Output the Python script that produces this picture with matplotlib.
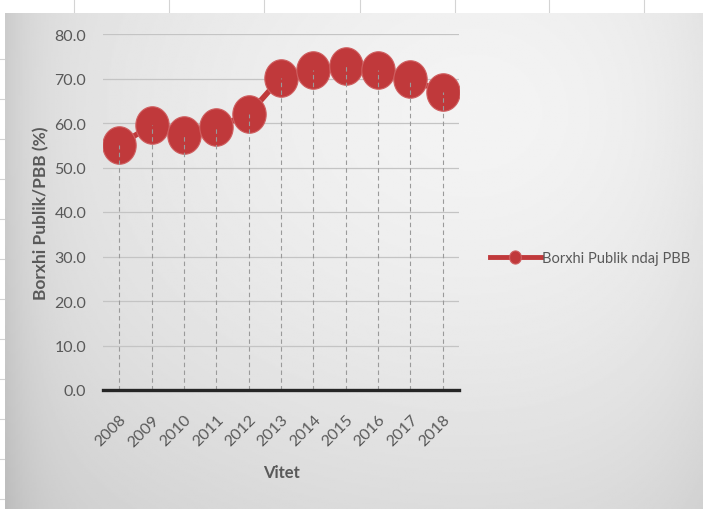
import matplotlib
matplotlib.use("Agg")

import matplotlib.pyplot as plt
from matplotlib.path import Path
import numpy as np

# public debt as share of GDP, by year
years = ["2008", "2009", "2010", "2011", "2012", "2013",
         "2014", "2015", "2016", "2017", "2018"]
debt_pct = [55.0, 59.5, 57.4, 59.0, 62.0, 70.2, 71.9, 72.7, 72.0, 69.8, 67.0]
yticks = [0, 10, 20, 30, 40, 50, 60, 70, 80]

RED = "#c0393b"
TXT = "#595959"
plt.rcParams["font.family"] = ["Lato", "DejaVu Sans"]

fig = plt.figure(figsize=(7.03, 5.10), dpi=100)
fig.patch.set_facecolor("white")

# chart area: light in the upper right, darker towards the left and bottom
bg = fig.add_axes([5 / 703, 0, 1 - 5 / 703, 1 - 14 / 510])
yy, xx = np.mgrid[1:0:300j, 0:1:400j]
r = np.sqrt(((xx - 0.68) * 1.0) ** 2 + ((yy - 0.8) * 0.9) ** 2)
shade = 0.955 - 0.15 * r ** 1.5
shade -= 0.07 * np.exp(-xx / 0.04)
shade -= 0.03 * np.exp(-(1 - xx) / 0.08)
bg.imshow(np.clip(shade, 0.7, 1), cmap="gray", vmin=0, vmax=1,
          aspect="auto", extent=[0, 1, 0, 1])
bg.set_xlim(0, 1)
bg.set_ylim(0, 1)
bg.axis("off")

# worksheet cell borders around the chart
sheet = fig.add_axes([0, 0, 1, 1], zorder=-1)
sheet.set_xlim(0, 703)
sheet.set_ylim(510, 0)
for x in [74, 169, 264, 360, 455, 549, 644]:
    sheet.plot([x, x], [0, 14], color="#d4d4d4", lw=0.8)
for y in [60, 100, 140, 180, 220, 260, 300, 340, 380, 420, 460, 500]:
    sheet.plot([0, 5], [y, y], color="#d4d4d4", lw=0.8)
sheet.axis("off")

ax = fig.add_axes([103 / 703, 1 - 391 / 510, 356 / 703, 356 / 510])
ax.set_facecolor("none")
x = np.arange(len(years))

ax.set_ylim(0, 80)
ax.set_xlim(-0.5, len(years) - 0.5)
ax.set_yticks(yticks)
ax.set_yticklabels(["%.1f" % v for v in yticks])
ax.yaxis.grid(True, color="#c4c4c4", lw=0.9)
ax.set_axisbelow(True)

# slightly tall oval marker
t = np.linspace(0, 2 * np.pi, 60)
oval = Path(np.column_stack([0.89 * np.cos(t), np.sin(t)]), closed=True)

ax.plot(x, debt_pct, color=RED, lw=4, marker=oval, markersize=27,
        markerfacecolor=RED, markeredgecolor="#cf5f60", markeredgewidth=0.8,
        label="Borxhi Publik ndaj PBB", zorder=3)

# dashed drop lines from each point to the axis
ax.vlines(x, 0, debt_pct, colors="#9a9a9a", linestyles=(0, (4, 3)), lw=0.8,
          zorder=4)

for s in ["top", "right", "left"]:
    ax.spines[s].set_visible(False)
ax.spines["bottom"].set_color("#262626")
ax.spines["bottom"].set_linewidth(2.4)
ax.spines["bottom"].set_zorder(5)

ax.set_xticks(x)
ax.set_xticklabels(years, rotation=45, ha="right", rotation_mode="anchor")
ax.tick_params(axis="x", length=0, colors=TXT, labelsize=11.5, pad=16)
ax.tick_params(axis="y", length=0, colors=TXT, labelsize=11.5, pad=12)

ax.set_ylabel("Borxhi Publik/PBB (%)", fontsize=12.5, fontweight="bold",
              color=TXT, labelpad=4)
ax.set_xlabel("Vitet", fontsize=12, fontweight="bold", color=TXT, labelpad=11)

leg = ax.legend(loc="center left", bbox_to_anchor=(1.07, 0.37), frameon=False,
                fontsize=10.5, markerscale=0.35, handlelength=3.5,
                handletextpad=0.1, borderaxespad=0.0, labelcolor=TXT)
for h in leg.get_lines():
    h.set_linewidth(3.5)

plt.savefig("out.png", dpi=100)
